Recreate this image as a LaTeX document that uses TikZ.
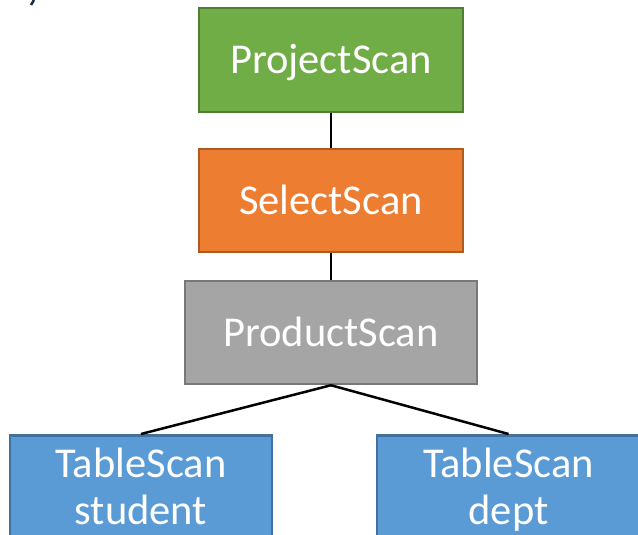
\documentclass[tikz,border=0pt]{standalone}
\usepackage{fontspec}
\setmainfont{Carlito}
\definecolor{projfill}{RGB}{112,173,71}
\definecolor{projline}{RGB}{80,126,50}
\definecolor{selfill}{RGB}{237,125,49}
\definecolor{selline}{RGB}{174,90,33}
\definecolor{prodfill}{RGB}{165,165,165}
\definecolor{prodline}{RGB}{120,120,120}
\definecolor{tabfill}{RGB}{91,155,213}
\definecolor{tabline}{RGB}{65,113,156}
\definecolor{penmark}{RGB}{31,42,68}
\begin{document}
\begin{tikzpicture}[x=1pt,y=-1pt,
  opbox/.style={draw, line width=2.5pt, rectangle, inner sep=0pt,
    text=white, font=\fontsize{42.5}{46.3}\selectfont, align=center},
  oneline/.style={text height=35pt, text depth=7pt},
  greenbox/.style={fill=projfill, draw=projline},
  orangebox/.style={fill=selfill, draw=selline},
  greybox/.style={fill=prodfill, draw=prodline},
  bluebox/.style={fill=tabfill, draw=tabline},
  edge/.style={draw=black, line width=2.5pt}]
\useasboundingbox (0,0) rectangle (638,535);
\begin{scope}
\clip (0,0) rectangle (638,535);
% stray pen mark at the top-left corner
\draw[line width=2.5pt, penmark] (31,5) -- (34,0);
% operator boxes
\node[opbox, oneline, greenbox, minimum width=264, minimum height=104] (proj) at (331,60) {ProjectScan};
\node[opbox, oneline, orangebox, minimum width=264, minimum height=103] (sel) at (331,200.5) {SelectScan};
\node[opbox, oneline, greybox, minimum width=292, minimum height=103] (prod) at (331,332.5) {ProductScan};
\node[opbox, bluebox, minimum width=262, minimum height=113.2, anchor=north] (stu) at (141,434) {TableScan\strut\\student\strut};
\node[opbox, bluebox, minimum width=263, minimum height=113.2, anchor=north] (dept) at (508.5,434) {TableScan\strut\\dept\strut};
% connectors
\draw[edge] (proj.south) -- (sel.north);
\draw[edge] (sel.south) -- (prod.north);
\draw[edge] (prod.south) -- (stu.north);
\draw[edge] (prod.south) -- (dept.north);
\end{scope}
\end{tikzpicture}
\end{document}
